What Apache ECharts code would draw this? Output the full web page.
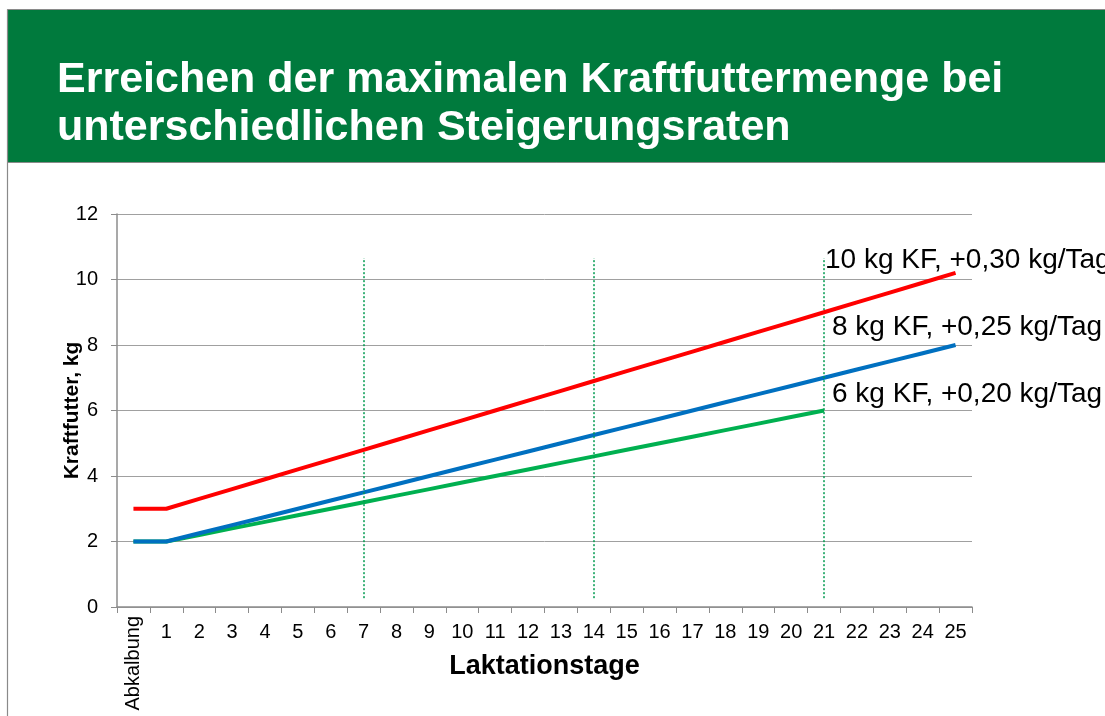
<!DOCTYPE html>
<html>
<head>
<meta charset="utf-8">
<script src="https://cdn.jsdelivr.net/npm/echarts@6/dist/echarts.min.js"></script>
<style>
html,body{margin:0;padding:0;background:#fff;}
#chart{width:1105px;height:716px;}
</style>
</head>
<body>
<div id="chart"></div>
<script>
const titleText = 'Erreichen der maximalen Kraftfuttermenge bei\nunterschiedlichen Steigerungsraten';
const categories = ['Abkalbung','1','2','3','4','5','6','7','8','9','10','11','12','13','14','15','16','17','18','19','20','21','22','23','24','25'];
const yTicks = [0, 2, 4, 6, 8, 10, 12];
const red10 = [3,3,3.3,3.6,3.9,4.2,4.5,4.8,5.1,5.4,5.7,6.0,6.3,6.6,6.9,7.2,7.5,7.8,8.1,8.4,8.7,9.0,9.3,9.6,9.9,10.2];
const blue8 = [2,2,2.25,2.5,2.75,3,3.25,3.5,3.75,4,4.25,4.5,4.75,5,5.25,5.5,5.75,6,6.25,6.5,6.75,7,7.25,7.5,7.75,8];
const green6 = [2,2,2.2,2.4,2.6,2.8,3.0,3.2,3.4,3.6,3.8,4.0,4.2,4.4,4.6,4.8,5.0,5.2,5.4,5.6,5.8,6.0,null,null,null,null];
const seriesNames = ['10 kg KF, +0,30 kg/Tag','8 kg KF, +0,25 kg/Tag','6 kg KF, +0,20 kg/Tag'];
const markerDays = ['7','14','21'];
const markerRange = [0.27, 10.66];
const xTitle = 'Laktationstage';
const yTitle = 'Kraftfutter, kg';

const FONT = '"Liberation Sans", Arial, sans-serif';
const chart = echarts.init(document.getElementById('chart'), null, {renderer:'canvas'});

const option = {
  animation: false,
  backgroundColor: '#fff',
  title: {
    text: titleText,
    left: 52, top: 51,
    textStyle: {color:'#fff', fontSize:43, fontWeight:'bold', fontFamily:FONT, lineHeight:48}
  },
  graphic: [
    {type:'rect', shape:{x:7.5, y:9.5, width:1100, height:153}, style:{fill:'#007A3D', stroke:'#8a8a8a', lineWidth:1}, z:-10},
    {type:'line', shape:{x1:7.5, y1:9.5, x2:7.5, y2:716}, style:{stroke:'#8a8a8a', lineWidth:1.2}, z:-10},
    {type:'text', x:825, y:260, style:{text:seriesNames[0], font:'28px '+FONT, fill:'#000', verticalAlign:'middle'}},
    {type:'text', x:832, y:327, style:{text:seriesNames[1], font:'28px '+FONT, fill:'#000', verticalAlign:'middle'}},
    {type:'text', x:832, y:394, style:{text:seriesNames[2], font:'28px '+FONT, fill:'#000', verticalAlign:'middle'}}
  ],
  grid: {left:117, right:133, top:214, bottom:109, containLabel:false},
  xAxis: [{
    type:'category', data:categories, boundaryGap:true,
    axisLine:{lineStyle:{color:'#8c8c8c', width:1.5}},
    axisTick:{show:true, alignWithLabel:false, length:6, lineStyle:{color:'#8c8c8c'}},
    axisLabel:{color:'#000', fontSize:20, fontFamily:FONT, margin:15, interval:0,
      formatter:(v,i)=> i===0 ? '' : v},
    name: xTitle, nameLocation:'middle', nameGap:46, nameMoveOverlap:false,
    nameTextStyle:{color:'#000', fontSize:27, fontWeight:'bold', fontFamily:FONT},
    splitLine:{show:false}
  },{
    type:'category', data:categories, boundaryGap:true, position:'bottom',
    axisLine:{show:false}, axisTick:{show:false},
    axisLabel:{color:'#000', fontSize:20, fontFamily:FONT, rotate:90, margin:9, interval:0,
      formatter:(v,i)=> i===0 ? v : ''}
  }],
  yAxis: {
    type:'value', min:yTicks[0], max:yTicks[yTicks.length-1], interval:2,
    axisLine:{show:true, lineStyle:{color:'#8c8c8c', width:1.5}},
    axisTick:{show:true, length:6, lineStyle:{color:'#8c8c8c'}},
    axisLabel:{color:'#000', fontSize:20, fontFamily:FONT, margin:19},
    splitLine:{lineStyle:{color:'#a0a0a0', width:1}},
    name: yTitle, nameLocation:'middle', nameGap:34, nameRotate:90, nameMoveOverlap:false,
    nameTextStyle:{color:'#000', fontSize:21, fontWeight:'bold', fontFamily:FONT}
  },
  series: [
    {name:seriesNames[0], type:'line', data:red10, symbol:'none', lineStyle:{color:'#FF0000', width:4}, z:5},
    {name:seriesNames[1], type:'line', data:blue8, symbol:'none', lineStyle:{color:'#0070C0', width:4}, z:4},
    {name:seriesNames[2], type:'line', data:green6, symbol:'none', lineStyle:{color:'#00B050', width:4}, z:3,
      markLine:{
        silent:true, symbol:['none','none'], label:{show:false},
        lineStyle:{color:'#009a50', type:[2,2], width:1.5},
        data: markerDays.map(d => [{coord:[d, markerRange[0]]},{coord:[d, markerRange[1]]}])
      }}
  ]
};
chart.setOption(option);
</script>
</body>
</html>
